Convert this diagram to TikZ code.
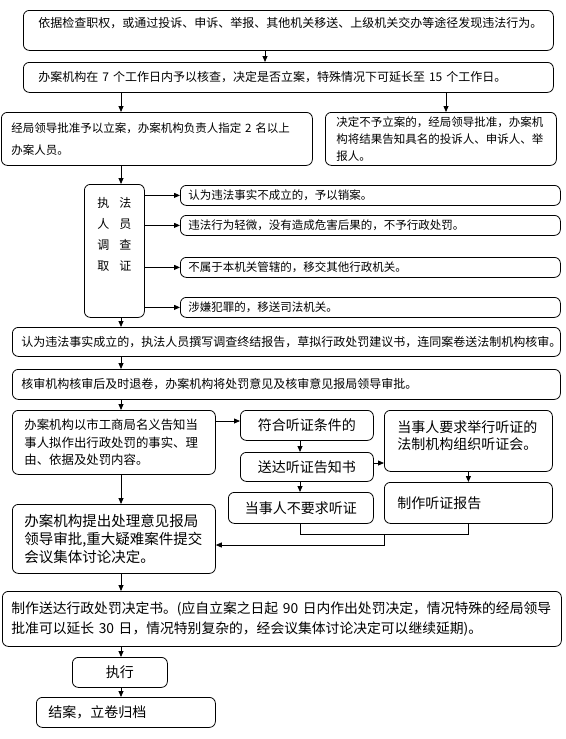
\documentclass[tikz,border=0pt]{standalone}
\usepackage{fontspec}
\setmainfont{Noto Sans CJK SC}
\usetikzlibrary{arrows.meta}
\begin{document}
\begin{tikzpicture}[x=1pt,y=-1pt,
  box/.style={draw, rounded corners=6pt, line width=0.8pt, anchor=north west, inner ysep=2pt, align=left},
  cbox/.style={draw, rounded corners=6pt, line width=0.8pt, anchor=north west, inner ysep=2pt, inner xsep=2pt, align=center},
  arr/.style={line width=0.8pt, -{Triangle[length=6pt,width=5pt]}},
  ln/.style={line width=0.8pt},
  fA/.style={font=\fontsize{12}{16}\selectfont},
  fB/.style={font=\fontsize{11.5}{17}\selectfont},
  fC/.style={font=\fontsize{14}{17}\selectfont}]
\useasboundingbox (0,0) rectangle (565,739);
% helper coordinates
\coordinate (x121) at (121,0);
\coordinate (x265) at (265,0);
\coordinate (x446) at (446,0);
\coordinate (x300) at (300,0);
\coordinate (x384) at (384,0);
\coordinate (y421) at (0,421);
\coordinate (y463) at (0,463);
\coordinate (y545) at (0,545);

% boxes
\node[box, fA, minimum width=530pt, minimum height=40pt, inner xsep=15pt, text width=500pt] (b1) at (23,10)
  {依据检查职权，或通过投诉、申诉、举报、其他机关移送、上级机关交办等途径发现违法行为。\\~};
\node[box, fA, minimum width=530pt, minimum height=30pt, inner xsep=15pt, text width=500pt] (b2) at (23,62)
  {办案机构在~7~个工作日内予以核查，决定是否立案，特殊情况下可延长至~15~个工作日。};
\node[box, font=\fontsize{11.5}{22}\selectfont, minimum width=311pt, minimum height=53pt, inner xsep=10pt, text width=291pt] (b3l) at (1,112)
  {经局领导批准予以立案，办案机构负责人指定~2~名以上\\办案人员。};
\node[box, fB, minimum width=231pt, minimum height=53pt, inner xsep=11pt, text width=209pt] (b3r) at (325,112)
  {决定不予立案的，经局领导批准，办案机\\构将结果告知具名的投诉人、申诉人、举\\报人。};
\node[cbox, font=\fontsize{12}{21}\selectfont, minimum width=60pt, minimum height=133pt] (inv) at (84,184)
  {执\hspace{10pt}法\\人\hspace{10pt}员\\调\hspace{10pt}查\\取\hspace{10pt}证\\[13pt]~};
\node[box, fB, minimum width=380pt, minimum height=20pt, inner xsep=8pt, text width=364pt] (r1) at (180,185)
  {认为违法事实不成立的，予以销案。};
\node[box, fB, minimum width=380pt, minimum height=20pt, inner xsep=8pt, text width=364pt] (r2) at (180,215)
  {违法行为轻微，没有造成危害后果的，不予行政处罚。};
\node[box, fB, minimum width=380pt, minimum height=20pt, inner xsep=8pt, text width=364pt] (r3) at (180,257)
  {不属于本机关管辖的，移交其他行政机关。};
\node[box, fB, minimum width=380pt, minimum height=20pt, inner xsep=8pt, text width=364pt] (r4) at (180,297)
  {涉嫌犯罪的，移送司法机关。};
\node[box, fA, minimum width=548pt, minimum height=29pt, inner xsep=9pt, text width=530pt] (b5) at (12,327)
  {认为违法事实成立的，执法人员撰写调查终结报告，草拟行政处罚建议书，连同案卷送法制机构核审。};
\node[box, fA, minimum width=548pt, minimum height=30pt, inner xsep=9pt, text width=530pt] (b6) at (12,369)
  {核审机构核审后及时退卷，办案机构将处罚意见及核审意见报局领导审批。};
\node[box, font=\fontsize{12.4}{17.5}\selectfont, minimum width=203pt, minimum height=64pt, inner xsep=12pt, text width=179pt] (b7) at (12,410)
  {办案机构以市工商局名义告知当\\事人拟作出行政处罚的事实、理\\由、依据及处罚内容。};
\node[cbox, fC, minimum width=133pt, minimum height=30pt] (fh) at (240,410) {符合听证条件的};
\node[cbox, fC, minimum width=133pt, minimum height=29pt] (sd) at (240,452) {送达听证告知书};
\node[cbox, fC, minimum width=145pt, minimum height=31pt] (by) at (228,492) {当事人不要求听证};
\node[box, fC, minimum width=168pt, minimum height=61pt, inner xsep=13pt, text width=142pt] (hr) at (384,410)
  {当事人要求举行听证的\\法制机构组织听证会。\\[-6pt]~};
\node[box, fC, minimum width=168pt, minimum height=41pt, inner xsep=13pt, text width=142pt] (rp) at (384,482)
  {制作听证报告};
\node[box, font=\fontsize{14.5}{18}\selectfont, minimum width=203pt, minimum height=69pt, inner xsep=12pt, text width=179pt] (b8) at (12,504)
  {办案机构提出处理意见报局\\领导审批,重大疑难案件提交\\会议集体讨论决定。};
\node[box, font=\fontsize{13.8}{20}\selectfont, minimum width=559pt, minimum height=55pt, inner xsep=9pt, text width=541pt] (b9) at (2,591)
  {制作送达行政处罚决定书。(应自立案之日起~90~日内作出处罚决定，情况特殊的经局领导\\批准可以延长~30~日，情况特别复杂的，经会议集体讨论决定可以继续延期)。};
\node[cbox, fC, minimum width=95pt, minimum height=30pt] (zx) at (72,657) {执行};
\node[box, fC, minimum width=179pt, minimum height=30pt, inner xsep=12pt, text width=155pt] (ja) at (36,697) {结案，立卷归档};

% connectors
\draw[arr] (b1.south -| x265) -- (b2.north -| x265);
\draw[arr] (b2.south -| x121) -- (b3l.north -| x121);
\draw[arr] (b2.south -| x446) -- (b3r.north -| x446);
\draw[arr] (b3l.south -| x121) -- (inv.north -| x121);
\draw[arr] (inv.east |- r1.west) -- (r1.west);
\draw[arr] (inv.east |- r2.west) -- (r2.west);
\draw[arr] (inv.east |- r3.west) -- (r3.west);
\draw[arr] (inv.east |- r4.west) -- (r4.west);
\draw[arr] (inv.south -| x121) -- (b5.north -| x121);
\draw[arr] (b5.south -| x121) -- (b6.north -| x121);
\draw[arr] (b6.south -| x121) -- (b7.north -| x121);
\draw[arr] (b7.east |- y421) -- (fh.west |- y421);
\draw[arr] (fh.south -| x300) -- (sd.north -| x300);
\draw[arr] (sd.south -| x300) -- (by.north -| x300);
\draw[arr] (sd.east |- y463) -- (hr.west |- y463);
\draw[arr] (hr.south) -- (rp.north);
\draw[ln] (by.south -| x300) -- ++(0,11) coordinate (jl) -| (rp.south);
\draw[arr] (jl -| x384) |- (b8.east |- y545);
\draw[arr] (b7.south -| x121) -- (b8.north -| x121);
\draw[arr] (b8.south -| x121) -- (b9.north -| x121);
\draw[arr] (b9.south -| x121) -- (zx.north -| x121);
\draw[arr] (zx.south -| x121) -- (ja.north -| x121);
\end{tikzpicture}
\end{document}
